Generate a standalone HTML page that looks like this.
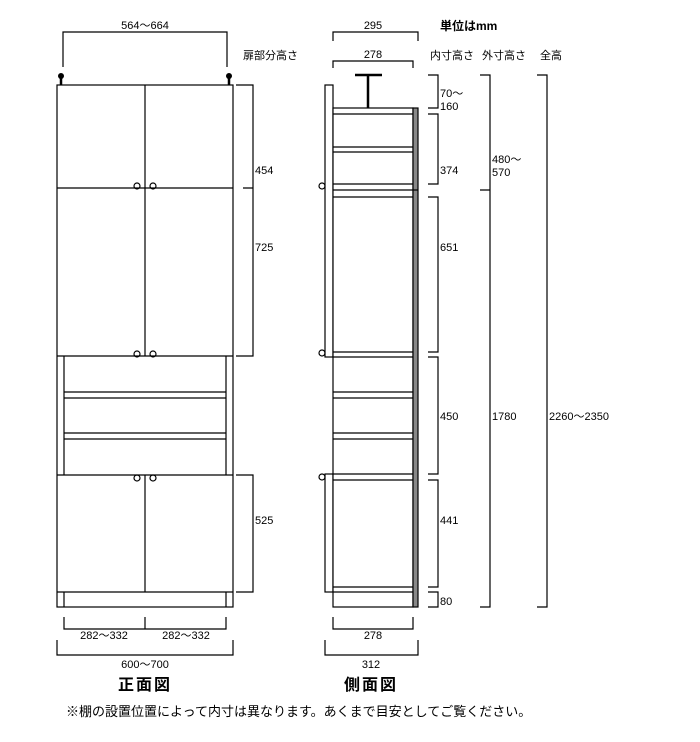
<!DOCTYPE html><html><head><style>body{margin:0;background:#fff}svg text{font-family:"Liberation Sans","Noto Sans CJK JP",sans-serif;fill:#000}</style></head><body>
<svg width="700" height="737" viewBox="0 0 700 737" xmlns="http://www.w3.org/2000/svg">
<g fill="none" stroke="#000" stroke-width="1.2">
<!-- front -->
<path d="M63 67V32H227V67"/>
<rect x="57" y="85" width="176" height="522" fill="#fff"/>
<path d="M145 85V356M57 188H233M57 356H233M64 356V475M226 356V475M64 392H226M64 398H226M64 433H226M64 439H226M57 475H233M145 475V592M57 592H233M64 592V607M226 592V607"/>
<path d="M61 85V76M229 85V76" stroke-width="2.5"/>
<circle cx="137" cy="186" r="3"/><circle cx="153" cy="186" r="3"/>
<circle cx="137" cy="354" r="3"/><circle cx="153" cy="354" r="3"/>
<circle cx="137" cy="478" r="3"/><circle cx="153" cy="478" r="3"/>
<path d="M236 85H253V188H243M243 188H253V356H236M236 475H253V592H236"/>
<path d="M64 617V629H226V617M145 617V629M57 640V655H233V640"/>
<!-- side -->
<path d="M333 68V61H413V68M333 41V32H418V41"/>
<rect x="325" y="85" width="8" height="272" fill="#fff"/>
<rect x="325" y="474" width="8" height="118" fill="#fff"/>
<rect x="333" y="108" width="80" height="499" fill="#fff"/>
<rect x="413" y="108" width="5" height="499" fill="#888"/>
<path d="M333 114H413M333 147H413M333 152H413M333 184H413M333 190H418M333 197H413M333 352H413M333 357H413M333 392H413M333 398H413M333 433H413M333 439H413M333 474H413M333 480H413M333 587H413M333 592H413"/>
<path d="M355 75H382M368 75V108" stroke-width="2.5"/>
<circle cx="322" cy="186" r="3"/><circle cx="322" cy="353" r="3"/><circle cx="322" cy="477" r="3"/>
<path d="M428 75H438V108H428M428 114H438V184H428M428 197H438V352H428M428 357H438V474H428M428 480H438V587H428M428 592H438V607H428"/>
<path d="M480 75H490V607H480M480 190H490M537 75H547V607H537"/>
<path d="M333 617V629H413V617M325 640V655H418V640"/>
</g>
<circle cx="61" cy="76" r="3"/><circle cx="229" cy="76" r="3"/>
<g font-size="11">
<text x="145" y="29" text-anchor="middle">564～664</text>
<text x="243" y="59">扉部分高さ</text>
<text x="255" y="174">454</text><text x="255" y="251">725</text><text x="255" y="524">525</text>
<text x="104" y="639" text-anchor="middle">282～332</text><text x="186" y="639" text-anchor="middle">282～332</text>
<text x="145" y="668" text-anchor="middle">600～700</text>
<text x="373" y="29" text-anchor="middle">295</text><text x="373" y="58" text-anchor="middle">278</text>
<text x="430" y="59">内寸高さ</text><text x="482" y="59">外寸高さ</text><text x="540" y="59">全高</text>
<text x="440" y="97">70～</text><text x="440" y="110">160</text>
<text x="440" y="174">374</text><text x="440" y="251">651</text><text x="440" y="420">450</text><text x="440" y="524">441</text><text x="440" y="605">80</text>
<text x="492" y="163">480～</text><text x="492" y="176">570</text>
<text x="492" y="420">1780</text><text x="549" y="420">2260～2350</text>
<text x="373" y="639" text-anchor="middle">278</text><text x="371" y="668" text-anchor="middle">312</text>
</g>
<text x="440" y="30" font-size="12" font-weight="bold">単位はmm</text>
<text x="145" y="690" font-size="16" text-anchor="middle" font-weight="bold" letter-spacing="2">正面図</text>
<text x="371" y="690" font-size="16" text-anchor="middle" font-weight="bold" letter-spacing="2">側面図</text>
<text x="66" y="716" font-size="13">※棚の設置位置によって内寸は異なります。あくまで目安としてご覧ください。</text>
</svg></body></html>
